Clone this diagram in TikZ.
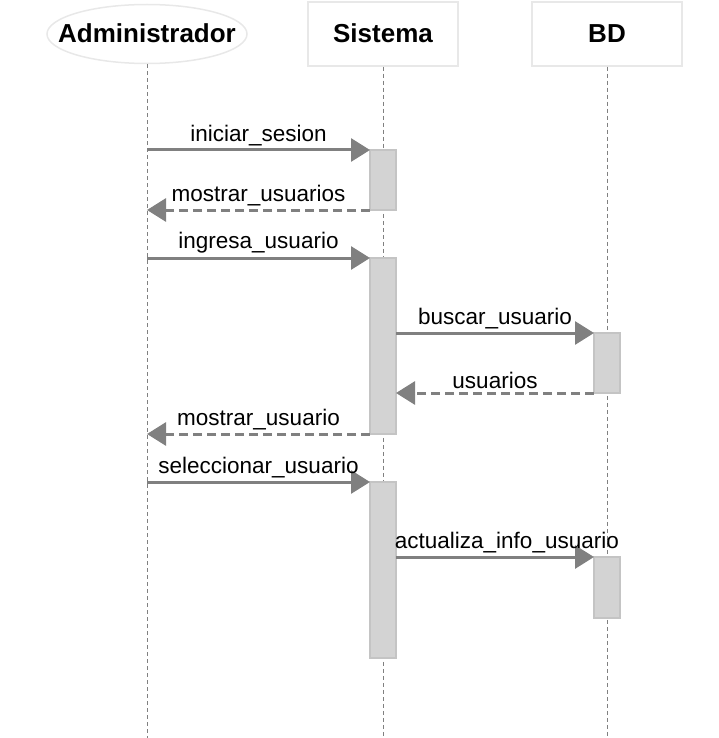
\documentclass[tikz,border=0pt]{standalone}
\usepackage{fontspec}
\setmainfont{Liberation Sans}
\usepackage{tikz}
\usetikzlibrary{shapes}
\usetikzlibrary{arrows.meta}
\usetikzlibrary{positioning}
\definecolor{seqBorder}{RGB}{232,232,232}
\definecolor{seqLine}{RGB}{128,128,128}
\definecolor{seqAct}{RGB}{211,211,211}
\definecolor{seqActBorder}{RGB}{196,196,196}
\tikzstyle{actor} = [font={\fontsize{26}{28}\selectfont\bfseries}, draw=seqBorder, line width=1.5pt, text height=19pt, text depth=1pt]
\tikzstyle{lifeline} = [draw=seqLine, line width=0.8pt, dash pattern=on 4pt off 3pt]
\tikzstyle{act} = [rectangle, fill=seqAct, draw=seqActBorder, line width=1.5pt, minimum width=26pt, inner sep=0pt, outer sep=0pt, anchor=north]
\tikzstyle{msg} = [draw=seqLine, line width=3pt, -{Triangle[length=19pt,width=23pt]}]
\tikzstyle{ret} = [msg, dash pattern=on 9pt off 5pt]
\tikzstyle{lbl} = [font={\fontsize{22.5}{25}\selectfont}, text=black, inner sep=3pt]

\begin{document}
\begin{tikzpicture}[x=1pt, y=-1pt]
            \useasboundingbox (0,0) rectangle (719,738);
            % participants
            \node [actor, draw=none, minimum height=59pt] (adm) at (147,34) {Administrador};
            \draw [seqBorder, line width=1.5pt] (adm.center) ellipse [x radius=100pt, y radius=29.5pt];
            \node [actor, rectangle, minimum width=150pt, minimum height=64pt] (sis) at (383,34) {Sistema};
            \node [actor, rectangle, minimum width=150pt, minimum height=64pt] (bd) at (607,34) {BD};
            \coordinate (admEnd) at (147,738);
            \coordinate (sisEnd) at (383,738);
            \coordinate (bdEnd) at (607,738);
            \draw [lifeline] (adm.south) -- (admEnd);
            \draw [lifeline] (sis.south) -- (sisEnd);
            \draw [lifeline] (bd.south) -- (bdEnd);
            % activations
            \node [act, minimum height=60pt] (sisA) at (383,150) {};
            \node [act, minimum height=176pt] (sisB) at (383,258) {};
            \node [act, minimum height=60pt] (bdA) at (607,333) {};
            \node [act, minimum height=176pt] (sisC) at (383,482) {};
            \node [act, minimum height=61pt] (bdB) at (607,557) {};
            % points on the lifeline of the administrator
            \coordinate (m1) at (147,150);
            \coordinate (m2) at (147,210);
            \coordinate (m3) at (147,258);
            \coordinate (m6) at (147,434);
            \coordinate (m7) at (147,482);
            % messages
            \draw [msg] (m1) -- node [lbl, above] {iniciar\_sesion} (sisA.north west);
            \draw [ret] (sisA.south west) -- node [lbl, above] {mostrar\_usuarios} (m2);
            \draw [msg] (m3) -- node [lbl, above] {ingresa\_usuario} (sisB.north west);
            \draw [msg] (sisB.east |- bdA.north) -- node [lbl, above] {buscar\_usuario} (bdA.north west);
            \draw [ret] (bdA.south west) -- node [lbl, above] {usuarios} (sisB.east |- bdA.south);
            \draw [ret] (sisB.south west) -- node [lbl, above] {mostrar\_usuario} (m6);
            \draw [msg] (m7) -- node [lbl, above] {seleccionar\_usuario} (sisC.north west);
            \draw [msg] (sisC.east |- bdB.north) -- node [lbl, above, pos=0.56] {actualiza\_info\_usuario} (bdB.north west);
        \end{tikzpicture}
\end{document}
